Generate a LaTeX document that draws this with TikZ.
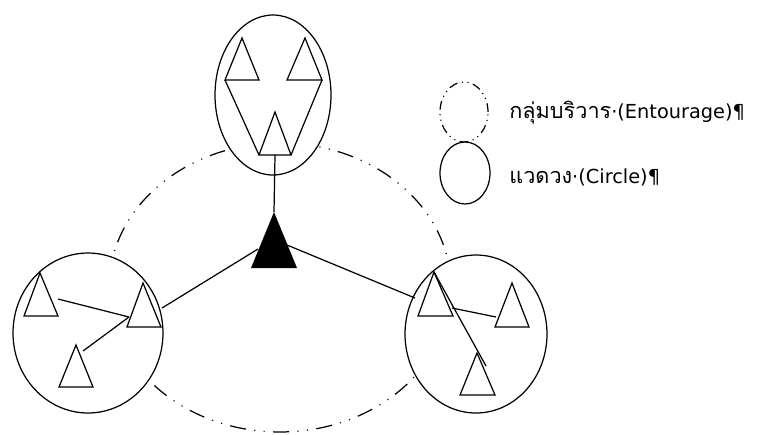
\documentclass[tikz,border=0pt]{standalone}
\usepackage{fontspec}
\setmainfont{DejaVu Sans}
\newfontfamily\thaifont[Script=Thai,Scale=1.12]{Loma}
\usetikzlibrary{shapes.geometric,calc}

\tikzset{
  circ/.style={draw, ellipse, fill=white, inner sep=0pt, line width=0.7pt},
  ringline/.style={draw, ellipse, inner sep=0pt, line width=0.7pt,
    dash pattern=on 9.1pt off 4.8pt on 0.6pt off 4.8pt on 0.6pt off 4.8pt},
  smallring/.style={draw, ellipse, inner sep=0pt, line width=0.7pt,
    dash pattern=on 5pt off 2.6pt on 0.6pt off 2.6pt on 0.6pt off 2.6pt},
  tribox/.style={line width=0.7pt, line join=miter},
  link/.style={line width=0.7pt},
  legend/.style={anchor=base west, inner sep=0pt, font=\fontsize{11pt}{13pt}\selectfont},
}

% triangle: name, apex x, apex y, base y, left x, right x
\newcommand{\triang}[6]{%
  \coordinate (#1-a) at (#2,#3);
  \coordinate (#1-l) at (#5,#4);
  \coordinate (#1-r) at (#6,#4);
  \draw[tribox] (#1-a) -- (#1-l) -- (#1-r) -- cycle;
}

\begin{document}
\begin{tikzpicture}[x=0.02cm, y=-0.02cm]
    \useasboundingbox (0,0) rectangle (763,434);
    % Entourage ring
    \node[ringline, minimum width=6.84cm, minimum height=5.78cm] (ring) at (280,287.5) {};
    % the three circles
    \node[circ, minimum width=2.32cm, minimum height=3.2cm] (top) at (273,95) {};
    \node[circ, minimum width=3.0cm, minimum height=3.2cm] (left) at (88,333) {};
    \node[circ, minimum width=2.84cm, minimum height=3.16cm] (right) at (476,334) {};

    % top circle
    \triang{t1}{242}{38}{80}{225}{259}
    \triang{t2}{305}{38}{80}{287}{322}
    \triang{t3}{275}{112}{155}{259}{291}
    \draw[link] (t1-l) -- (t3-l);
    \draw[link] (t2-r) -- (t3-r);

    % centre (filled)
    \coordinate (k-a) at (274,212);
    \coordinate (k-l) at (251,268);
    \coordinate (k-r) at (297,268);
    \fill (k-a) -- (k-l) -- (k-r) -- cycle;
    \draw[link] ($(t3-l)!0.5!(t3-r)$) -- (k-a);

    % left circle
    \triang{a}{40}{273}{316}{24}{58}
    \triang{b}{143}{283}{327}{127}{161}
    \triang{c}{76}{345}{387}{59}{93}
    \coordinate (a-e) at (58,299);
    \coordinate (b-e) at (129,317);
    \coordinate (c-e) at (83,351);
    \draw[link] (a-e) -- (b-e);
    \draw[link] (c-e) -- (b-e);

    % right circle
    \triang{d}{434}{272}{316}{418}{453}
    \triang{e}{512}{283}{327}{495}{529}
    \triang{f}{477}{353}{395}{460}{495}
    \coordinate (d-e) at (452,308);
    \coordinate (e-e) at (496,317);
    \coordinate (f-e) at (486,366);
    \draw[link] (d-a) -- (f-e);
    \draw[link] (d-e) -- (e-e);

    % links to the centre
    \coordinate (k-w) at (258,249);
    \coordinate (k-o) at (287,245);
    \coordinate (left-e) at (162,308);
    \coordinate (right-e) at (415,298);
    \draw[link] (k-w) -- (left-e);
    \draw[link] (k-o) -- (right-e);

    % legend
    \node[smallring, minimum width=0.96cm, minimum height=1.2cm] (key1) at (464,112) {};
    \node[circ, minimum width=1.0cm, minimum height=1.24cm] (key2) at (465,173) {};
    \node[legend] (lab1) at (509,118) {{\thaifont กลุ่มบริวาร}·(Entourage)¶};
    \node[legend] (lab2) at (509,183) {{\thaifont แวดวง}·(Circle)¶};
\end{tikzpicture}
\end{document}
